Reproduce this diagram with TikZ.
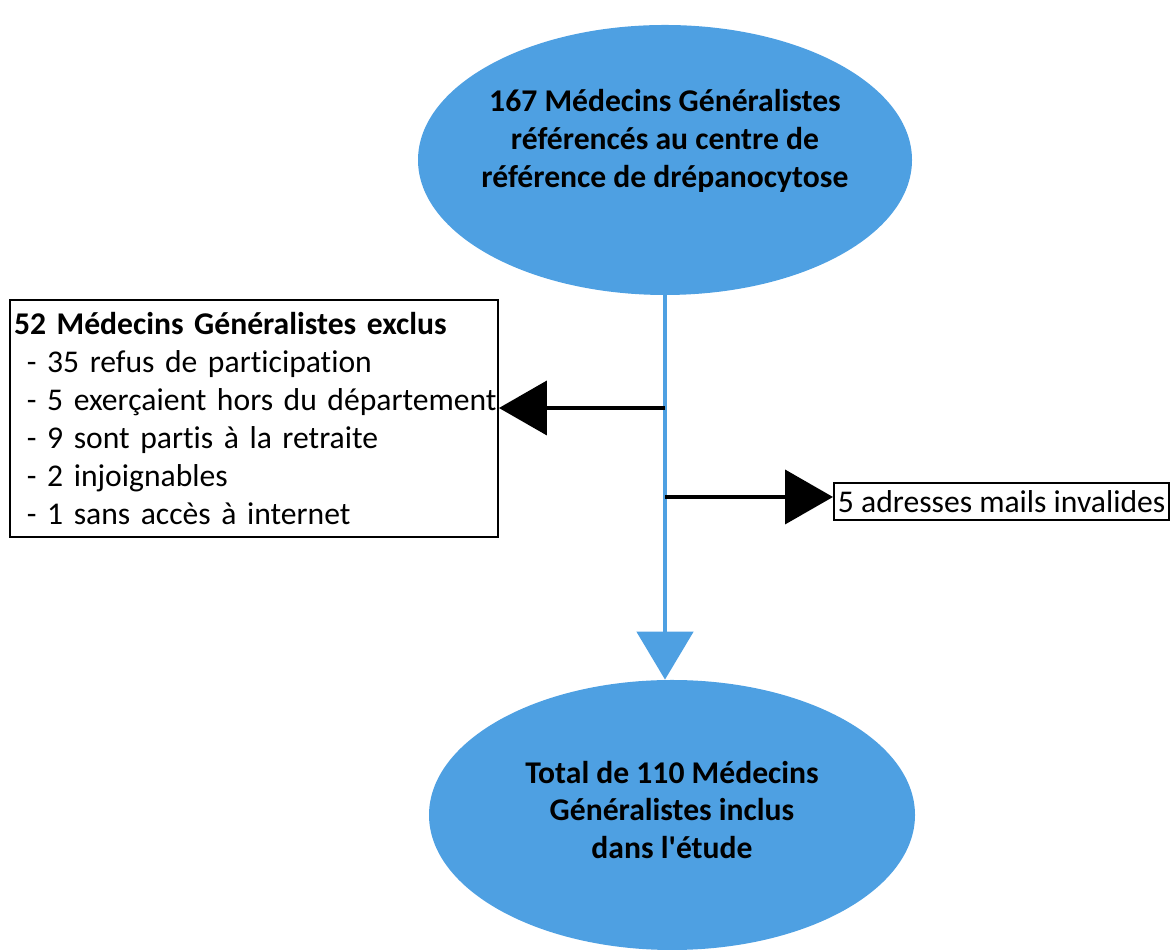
\documentclass[tikz,border=0pt]{standalone}
\usepackage{fontspec}
\setmainfont{Carlito}[Ligatures={NoCommon}]
\usepackage{xcolor}
\usetikzlibrary{positioning, shapes.geometric, arrows.meta}
\definecolor{flowblue}{RGB}{78,160,226}
\tikzset{
	blob/.style={ellipse, fill=flowblue, inner sep=0pt, minimum width=9.88cm, minimum height=5.4cm},
	blobtext/.style={align=center, font=\bfseries\fontsize{18}{21.5}\selectfont},
	listbox/.style={draw, line width=1.1pt, font=\fontsize{18}{21.6}\selectfont},
	bluearrow/.style={-{Triangle[length=0.96cm, width=1.12cm]}, draw=flowblue, line width=2.8pt},
	blackarrow/.style={-{Triangle[length=0.96cm, width=1.08cm]}, line width=2.3pt},
}

\begin{document}
\begin{tikzpicture}
	\useasboundingbox (0, 0) rectangle (23.44, 19);
	
	\node[blob] (top) at (13.3, 15.8) {};
	\node[blobtext] (topText) at ([yshift=0.38cm]top.center) {167 Médecins Généralistes\\ référencés au centre de\\ référence de drépanocytose};
	
	\node[blob, minimum width=9.72cm] (bot) at (13.44, 2.7) {};
	\node[blobtext] (botText) at ([yshift=0.1cm]bot.center) {Total de 110 Médecins\\ Généralistes inclus\\ dans l\textquotesingle étude};
	
	\node[listbox, minimum width=9.76cm, minimum height=4.74cm, text width=9.72cm, inner xsep=0.02cm, align=left] (excl) at (5.08, 10.63) {\hyphenpenalty=10000 \hspace*{0.06cm}\textbf{52 Médecins Généralistes exclus}\\
		\hspace*{0.32cm}- 35 refus de participation\\
		\hspace*{0.32cm}- 5 exerçaient hors du département\\
		\hspace*{0.32cm}- 9 sont partis à la retraite\\
		\hspace*{0.32cm}- 2 injoignables\\
		\hspace*{0.32cm}- 1 sans accès à internet};
	
	\node[listbox, anchor=west, minimum height=0.74cm, inner xsep=0.08cm, inner ysep=0pt] (mail) at (16.66, 8.97) {5 adresses mails invalides};
	
	\coordinate (jL) at (13.3, 10.84);
	\coordinate (jR) at (13.3, 9.06);
	
	\draw[bluearrow] (top.south) -- (top.south |- bot.north);
	\draw[blackarrow] (jL) -- (jL -| excl.east);
	\draw[blackarrow] (jR) -- (jR -| mail.west);
\end{tikzpicture}
\end{document}
